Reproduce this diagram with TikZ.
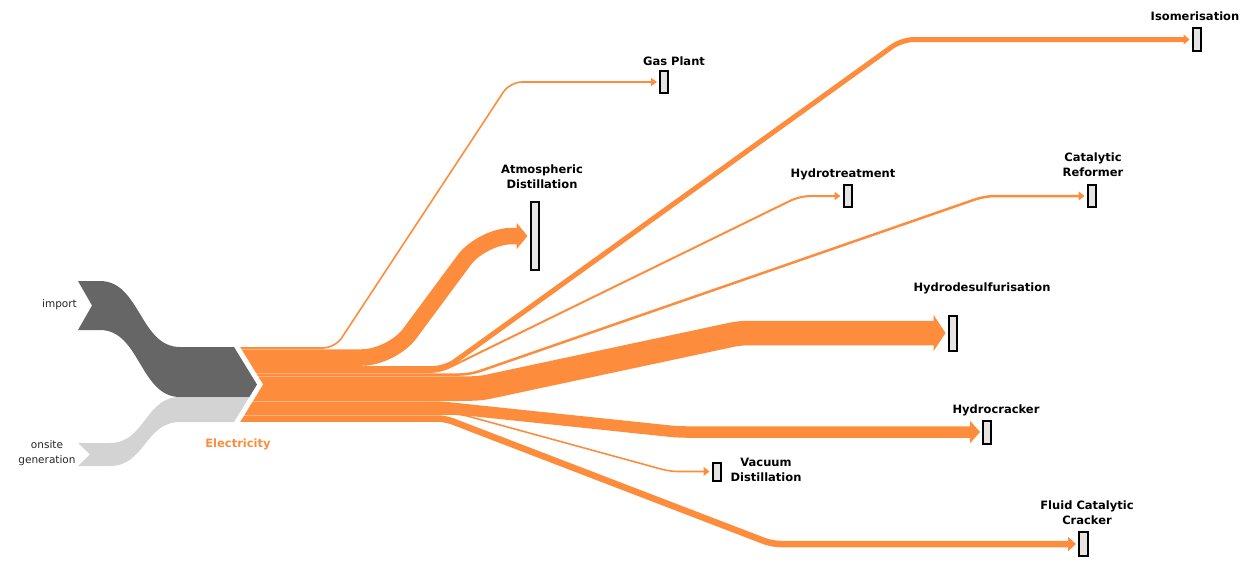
\documentclass[tikz,border=0pt]{standalone}
\usepackage{fontspec}
\setmainfont{DejaVu Sans}
\usetikzlibrary{arrows.meta}
\definecolor{elec}{RGB}{253,141,60}
\definecolor{importgray}{RGB}{102,102,102}
\definecolor{onsitegray}{RGB}{211,211,211}
\definecolor{boxfill}{RGB}{228,228,228}
\tikzset{
    unit/.style={draw=black, line width=2pt, fill=boxfill, inner sep=0pt,
    	minimum width=8pt}
}
\tikzset{
    lbl/.style={font=\bfseries\fontsize{11.5}{15}\selectfont, align=center,
    	inner sep=0pt},
    srclbl/.style={font=\fontsize{10.5}{14.5}\selectfont, align=center,
    	inner sep=0pt, text=black!85}
}
\tikzset{
	band/.style={draw=elec, line width=#1, shorten >=2pt}
}

\begin{document}
\begin{tikzpicture}[x=1pt, y=-1pt]
  \useasboundingbox (0,0) rectangle (1251,563);

  % process units
  \node[unit, minimum height=22pt] (gasplant) at (664,82) {};
  \node[unit, minimum height=68pt] (atmdist) at (534.5,236) {};
  \node[unit, minimum height=23pt] (isom) at (1196.5,39.5) {};
  \node[unit, minimum height=22pt] (hydrotreat) at (847.5,196) {};
  \node[unit, minimum height=22pt] (catref) at (1091.5,196) {};
  \node[unit, minimum height=35pt] (hds) at (952.5,333) {};
  \node[unit, minimum height=23pt] (hcrack) at (987,432) {};
  \node[unit, minimum height=18pt] (vacdist) at (716.5,471.5) {};
  \node[unit, minimum height=24pt, minimum width=9pt] (fcc) at (1083.5,544) {};

  \node[lbl] (gasplant-l) at (674,61) {Gas Plant};
  \node[lbl] (atmdist-l) at (542,177) {Atmospheric\\Distillation};
  \node[lbl] (isom-l) at (1195,16) {Isomerisation};
  \node[lbl] (hydrotreat-l) at (843,174) {Hydrotreatment};
  \node[lbl] (catref-l) at (1093,164.5) {Catalytic\\Reformer};
  \node[lbl] (hds-l) at (982,288) {Hydrodesulfurisation};
  \node[lbl] (hcrack-l) at (996,410) {Hydrocracker};
  \node[lbl] (vacdist-l) at (766,470) {Vacuum\\Distillation};
  \node[lbl] (fcc-l) at (1087,513) {Fluid Catalytic\\Cracker};

  % electricity bar, one start per consumer
  \coordinate (s-gas) at (236,348);
  \coordinate (s-atm) at (236,357.5);
  \coordinate (s-iso) at (236,368.5);
  \coordinate (s-ht) at (236,372);
  \coordinate (s-cat) at (236,374.5);
  \coordinate (s-hds) at (236,388.5);
  \coordinate (s-hc) at (236,407);
  \coordinate (s-vac) at (236,414);
  \coordinate (s-fcc) at (236,418.5);

  \draw[band=16.5pt, rounded corners=30pt, -{Triangle[length=11pt,width=26pt]}]
    (s-atm) -- (392,357.5) -- (482,236) -- (atmdist.west);
  \draw[band=24.5pt, rounded corners=8pt, -{Triangle[length=12pt,width=36pt]}]
    (s-hds) -- (480,388.5) -- (740,333) -- (hds.west);
  \draw[band=11.5pt, rounded corners=8pt, -{Triangle[length=10pt,width=22pt]}]
    (s-hc) -- (440,407) -- (678,432) -- (hcrack.west);
  \draw[band=6.5pt, rounded corners=8pt, -{Triangle[length=8pt,width=14pt]}]
    (s-fcc) -- (445,418.5) -- (772,544) -- (fcc.west);
  \draw[band=5pt, rounded corners=12pt, -{Triangle[length=6pt,width=10pt]}]
    (s-iso) -- (445,368.5) -- (902,39.5) -- (isom.west);
  \draw[band=2.5pt, rounded corners=10pt, -{Triangle[length=6pt,width=9pt]}]
    (s-cat) -- (470,374.5) -- (985,196) -- (catref.west);
  \draw[band=2pt, rounded corners=10pt, -{Triangle[length=6pt,width=8pt]}]
    (s-ht) -- (440,372) -- (800,196) -- (hydrotreat.west);
  \draw[band=1.6pt, rounded corners=12pt, -{Triangle[length=6pt,width=8pt]}]
    (s-gas) -- (335,348) -- (510,82) -- (gasplant.west);
  \draw[band=1.6pt, rounded corners=8pt, -{Triangle[length=6pt,width=9pt]}]
    (s-vac) -- (460,414) -- (670,471.5) -- (vacdist.west);

  % notch on the left of the bar
  \fill[white] (230,340) -- (240,340) -- (240,347) -- (263,384.5)
    -- (240,422) -- (240,430) -- (230,430) -- cycle;

  % inputs
  \fill[importgray] (78,281) -- (100,281) .. controls (140,281) and (140,347) .. (180,347)
    -- (234,347) -- (257,384.5) -- (249.3,397) -- (180,397)
    .. controls (140,397) and (140,330) .. (100,330) -- (78,330) -- (92,305.5) -- cycle;
  \fill[onsitegray] (78,443) -- (110,443) .. controls (145,443) and (145,397) .. (180,397)
    -- (249.3,397) -- (234,422) -- (180,422)
    .. controls (145,422) and (145,466) .. (110,466) -- (78,466) -- (90,454.5) -- cycle;

  \node[srclbl, anchor=east] (import-l) at (77,305) {import};
  \node[srclbl] (onsite-l) at (47,453) {onsite\\generation};
  \node[lbl, text=elec] (elec) at (238,444) {Electricity};
\end{tikzpicture}
\end{document}
